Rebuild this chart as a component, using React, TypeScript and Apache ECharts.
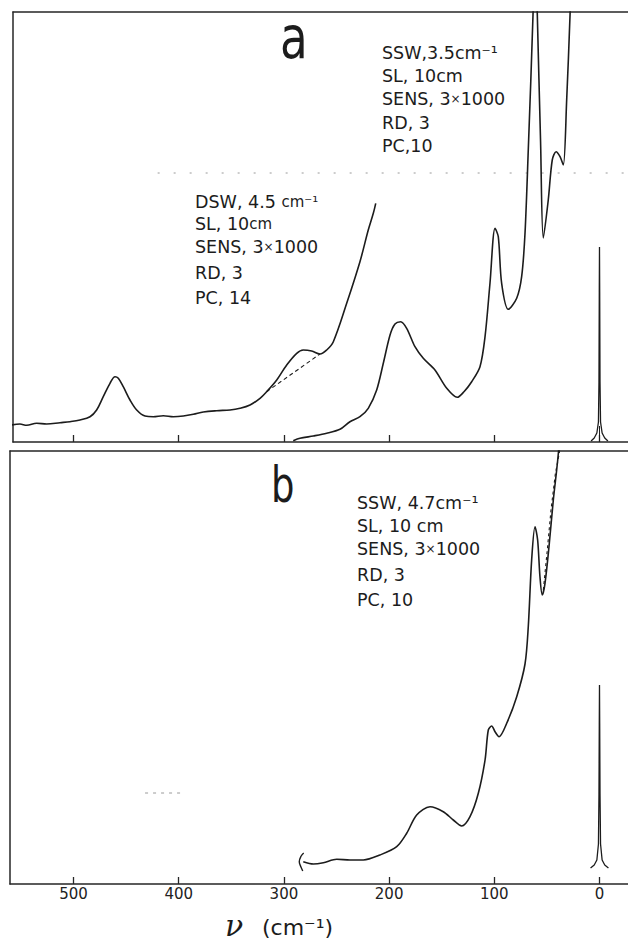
import React, { useEffect, useRef } from "react";
import * as echarts from "echarts";

// ---- data (wavenumber cm-1, relative intensity) ----
const X_TICKS = [0, 100, 200, 300, 400, 500];

const dswCurve: [number, number][] = [
  [558.8, 17], [550.9, 18], [544.5, 16.7], [535, 18.7], [525.5, 18], [512.8, 19.3],
  [503.3, 20.3], [493.8, 22], [484.3, 25.3], [478, 32], [471.7, 45.3], [465.3, 58.7],
  [460.5, 65.3], [457.4, 63.7], [452.7, 55.3], [446.3, 42], [439.9, 32], [432, 26],
  [424.2, 25.3], [414.6, 26.3], [405.1, 25.3], [395.6, 26], [386.1, 27.7], [376.6, 30],
  [363.9, 31.3], [351.2, 32], [341.7, 33.7], [332.2, 37], [322.7, 43.7], [316.4, 50.3],
  [306.8, 62], [297.3, 77], [287.8, 88.7], [281.6, 92], [273.6, 91], [265.7, 88],
  [259.3, 92], [253, 100.3], [240.3, 138.7], [227.7, 180.3], [219.8, 212], [215, 228.7],
  [212.7, 238.7],
];
const dswBaseline: [number, number][] = [[316.4, 50.3], [265.7, 88]];

const sswCurveA: [number, number][] = [
  [291.1, 1.3], [284.7, 3.7], [272, 6], [259.3, 8.7], [246.7, 12.7], [237.2, 20.3],
  [227.7, 25.3], [219.8, 33.7], [211.8, 52], [205.5, 78.7], [199.1, 107], [194.4, 118],
  [189, 120.3], [183.3, 113.7], [175.4, 95.3], [167.5, 83.7], [156.4, 72], [145.2, 53.7],
  [135.2, 44.7], [128.8, 50.3], [121.5, 60.3], [113.6, 75.3], [108.8, 105.3], [104.1, 158.7],
  [99.3, 213.7], [96.2, 205.3], [93, 158.7], [86.7, 132.7], [78.7, 143.7], [74, 165.3],
  [70.8, 208.7], [67.7, 292], [63.2, 427], [61.2, 520], [59.1, 427], [56, 300],
  [53.4, 204], [48.7, 242], [44.9, 282], [41.3, 290.3], [37.5, 285.3], [34.4, 277],
  [31.2, 342], [28, 427], [27, 470],
];

const laserA: [number, number][] = [
  [8, 1], [5, 4], [2.5, 9], [1, 20], [0.5, 60], [0.2, 150], [0, 195],
  [-0.2, 150], [-0.5, 60], [-1, 20], [-2.5, 9], [-5, 4], [-8, 1],
];
const laserStemA: [number, number][] = [[0, 0], [0, 16]];

const sswCurveB: [number, number][] = [
  [281.6, 22.3], [272, 20], [262.5, 21.3], [249.8, 24.7], [237.2, 24], [224.5, 24],
  [208.7, 29], [192.8, 37.3], [183.3, 50.7], [173.8, 69], [161.1, 77.3], [148.5, 72.3],
  [139, 64], [131, 58], [123.1, 67.3], [115.2, 90.7], [108.8, 124], [105.7, 154],
  [102.5, 158], [99.3, 152.3], [95.5, 147.3], [88.2, 160.7], [78.7, 187.3], [70.8, 220],
  [67.7, 257.3], [64.5, 324], [61.3, 357.3], [58.8, 344], [56.6, 307.3], [54.4, 289],
  [51.8, 300.7], [47.7, 340.7], [43.9, 384], [40.7, 414], [38.8, 434], [38, 445],
];
const sswDashedB: [number, number][] = [
  [53.4, 294], [50, 330], [46, 375], [42, 410], [38.2, 431], [37.5, 440],
];
const braceB: [number, number][] = [
  [281.2, 31], [283.6, 28], [285.4, 22.3], [283.8, 17], [282.1, 13],
];
const laserB: [number, number][] = [
  [8.5, 16], [5, 19], [2.5, 24], [1, 40], [0.5, 90], [0.2, 160], [0, 199],
  [-0.2, 160], [-0.5, 90], [-1, 40], [-2.5, 24], [-5, 19], [-8.5, 16],
];
const artifactA: [number, number][] = [[420, 269], [-27, 269]];
const artifactB: [number, number][] = [[432, 91], [398, 91]];

const TEXT_A_RIGHT = ["SSW,3.5cm⁻¹", "SL, 10cm", "SENS, 3{x|×}1000", "RD, 3", "PC,10"];
const TEXT_A_LEFT = ["DSW, 4.5 {s|cm⁻¹}", "SL, 10{s|cm}", "SENS, 3{x|×}1000", "RD, 3", "PC, 14"];
const TEXT_B = ["SSW, 4.7cm⁻¹", "SL, 10 cm", "SENS, 3{x|×}1000", "RD, 3", "PC, 10"];

const INK = "#1c1c1c";
const FONT = "DejaVu Sans";

function block(lines: string[], x: number, ys: number[]) {
  return lines.map((t, i) => ({
    type: "text",
    x,
    y: ys[i],
    style: {
      text: t,
      fontFamily: FONT,
      fontSize: 17.5,
      fill: INK,
      align: "left",
      verticalAlign: "middle",
      rich: {
        x: { fontFamily: FONT, fontSize: 12, fill: INK },
        s: { fontFamily: FONT, fontSize: 15, fill: INK },
      },
    },
  }));
}

function line(data: [number, number][], xi: number, yi: number, extra: any = {}) {
  return {
    type: "line",
    xAxisIndex: xi,
    yAxisIndex: yi,
    data,
    showSymbol: false,
    symbol: "none",
    smooth: 0.35,
    clip: true,
    silent: true,
    lineStyle: { color: INK, width: 1.6 },
    ...extra,
  };
}

export default function App() {
  const ref = useRef<HTMLDivElement>(null);
  useEffect(() => {
    document.body.style.margin = "0";
    if (!ref.current) return;
    const chart = echarts.init(ref.current, undefined, { renderer: "svg" });
    const axisLine = { show: true, lineStyle: { color: "#262626", width: 1.5 } };
    const xBottom = (gi: number, max: number, labels: boolean) => ({
      type: "value",
      gridIndex: gi,
      inverse: true,
      min: -27.1,
      max,
      position: "bottom",
      axisLine: { ...axisLine, onZero: false },
      axisTick: { show: true, inside: true, length: 7, customValues: X_TICKS, lineStyle: { color: "#262626", width: 1.3 } },
      axisLabel: labels
        ? { show: true, customValues: X_TICKS, fontFamily: FONT, fontSize: 15, color: "#222", margin: 2 }
        : { show: false },
      splitLine: { show: false },
    });
    const xTop = (gi: number, max: number) => ({
      type: "value",
      gridIndex: gi,
      inverse: true,
      min: -27.1,
      max,
      position: "top",
      axisLine: { ...axisLine, onZero: false },
      axisTick: { show: false },
      axisLabel: { show: false },
      splitLine: { show: false },
    });
    const yAx = (gi: number, max: number) => ({
      type: "value",
      gridIndex: gi,
      min: 0,
      max,
      axisLine: { ...axisLine, onZero: false },
      axisTick: { show: false },
      axisLabel: { show: false },
      splitLine: { show: false },
    });
    chart.setOption({
      animation: false,
      backgroundColor: "#ffffff",
      grid: [
        { left: 13, right: 0, top: 12, height: 430, containLabel: false },
        { left: 10, right: 0, top: 451, height: 433, containLabel: false },
      ],
      xAxis: [xBottom(0, 557.5, false), xTop(0, 557.5), xBottom(1, 560.4, true), xTop(1, 560.4)],
      yAxis: [yAx(0, 430), yAx(1, 433)],
      series: [
        line(artifactA, 0, 0, { smooth: false, lineStyle: { color: "#9a9a9a", width: 1, type: [2, 14] } }),
        line(dswCurve, 0, 0),
        line(dswBaseline, 0, 0, { smooth: false, lineStyle: { color: INK, width: 1.1, type: [4, 3] } }),
        line(sswCurveA, 0, 0, { smooth: 0.3 }),
        line(laserA, 0, 0, { smooth: false, lineStyle: { color: INK, width: 1.3 } }),
        line(laserStemA, 0, 0, { smooth: false, lineStyle: { color: INK, width: 1 } }),
        line(artifactB, 2, 1, { smooth: false, lineStyle: { color: "#9a9a9a", width: 1, type: [3, 5] } }),
        line(sswCurveB, 2, 1, { smooth: 0.3 }),
        line(sswDashedB, 2, 1, { smooth: false, lineStyle: { color: INK, width: 1.1, type: [3, 3] } }),
        line(braceB, 2, 1, { smooth: 0.4, lineStyle: { color: INK, width: 1.4 } }),
        line(laserB, 2, 1, { smooth: false, lineStyle: { color: INK, width: 1.3 } }),
      ],
      graphic: [
        {
          type: "text",
          x: 280,
          y: 38,
          scaleX: 0.78,
          style: { text: "a", fontFamily: FONT, fontSize: 58, fill: INK, align: "left", verticalAlign: "middle" },
        },
        {
          type: "text",
          x: 271,
          y: 484,
          scaleX: 0.74,
          style: { text: "b", fontFamily: FONT, fontSize: 50, fill: INK, align: "left", verticalAlign: "middle" },
        },
        ...block(TEXT_A_RIGHT, 382, [53, 76, 99, 123, 146]),
        ...block(TEXT_A_LEFT, 195, [202, 224, 247, 273, 298]),
        ...block(TEXT_B, 357, [503, 526, 549, 575, 600]),
        {
          type: "text",
          x: 225,
          y: 925,
          style: { text: "ν", fontFamily: "DejaVu Serif", fontStyle: "italic", fontSize: 30, fill: INK, align: "left", verticalAlign: "middle" },
        },
        {
          type: "text",
          x: 262,
          y: 927,
          style: { text: "(cm⁻¹)", fontFamily: FONT, fontSize: 22, fill: INK, align: "left", verticalAlign: "middle" },
        },
      ],
    });
    return () => chart.dispose();
  }, []);
  return <div ref={ref} style={{ width: 628, height: 949 }} />;
}
